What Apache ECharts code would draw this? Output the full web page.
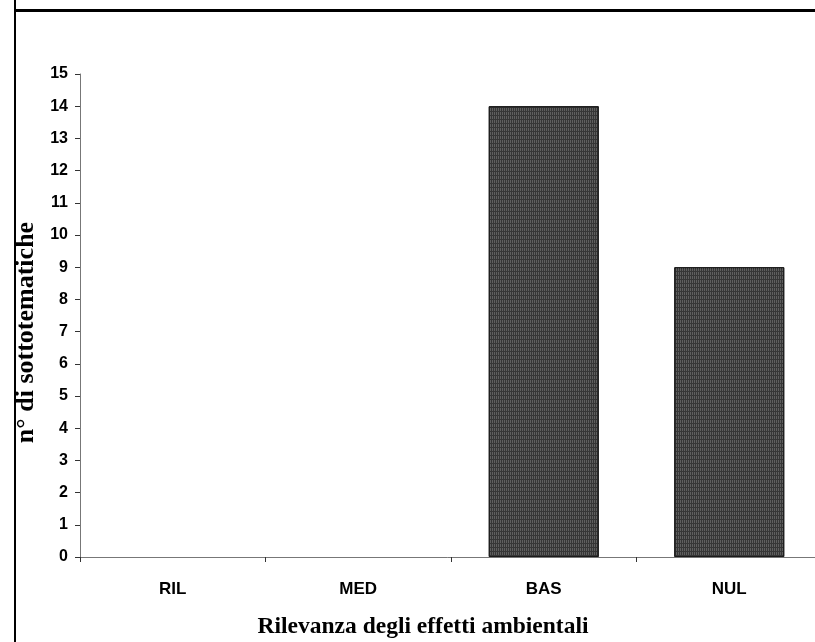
<!DOCTYPE html>
<html>
<head>
<meta charset="utf-8">
<script src="https://cdn.jsdelivr.net/npm/echarts@6/dist/echarts.min.js"></script>
<style>
html,body{margin:0;padding:0;background:#fff;}
#chart{width:815px;height:642px;}
</style>
</head>
<body>
<div id="chart"></div>
<script>
var categories = ['RIL', 'MED', 'BAS', 'NUL'];
var values = [0, 0, 14, 9];
var yTicks = {min: 0, max: 15, interval: 1};

var chart = echarts.init(document.getElementById('chart'), null, {renderer: 'canvas'});
chart.setOption({
  animation: false,
  backgroundColor: '#fff',
  grid: {left: 80, top: 74, bottom: 85, width: 742, containLabel: false, outerBoundsMode: 'none'},
  graphic: [
    {type: 'line', shape: {x1: 15, y1: 0, x2: 15, y2: 642}, style: {stroke: '#000', lineWidth: 2}},
    {type: 'line', shape: {x1: 15, y1: 10.5, x2: 815, y2: 10.5}, style: {stroke: '#000', lineWidth: 3}}
  ],
  xAxis: {
    type: 'category',
    data: categories,
    name: 'Rilevanza degli effetti ambientali',
    nameLocation: 'middle',
    nameGap: 58,
    nameTextStyle: {fontFamily: 'Liberation Serif', fontWeight: 'bold', fontSize: 23.5, color: '#000', padding: [0, 56, 0, 0]},
    axisLine: {lineStyle: {color: '#777', width: 1}},
    axisTick: {show: true, alignWithLabel: false, length: 5, lineStyle: {color: '#333'}},
    axisLabel: {fontFamily: 'Liberation Sans', fontWeight: 'bold', fontSize: 17, color: '#000', margin: 24}
  },
  yAxis: {
    type: 'value',
    min: yTicks.min, max: yTicks.max, interval: yTicks.interval,
    name: 'n° di sottotematiche',
    nameLocation: 'middle',
    nameGap: 37,
    nameTextStyle: {fontFamily: 'Liberation Serif', fontWeight: 'bold', fontSize: 26, color: '#000', padding: [0, 34, 0, 0]},
    axisLine: {show: true, lineStyle: {color: '#777', width: 1}},
    axisTick: {show: true, length: 5, lineStyle: {color: '#333'}},
    splitLine: {show: false},
    axisLabel: {fontFamily: 'Liberation Sans', fontWeight: 'bold', fontSize: 16, color: '#000', margin: 12}
  },
  series: [{
    type: 'bar',
    data: values.map(function (v) {
      return {value: v, itemStyle: {borderWidth: v === 0 ? 0 : 1}};
    }),
    barWidth: 110,
    itemStyle: {
      color: '#363636',
      borderColor: '#1a1a1a',
      decal: {symbol: 'rect', symbolSize: 1, color: 'rgba(100,100,100,0.9)', dashArrayX: [1, 1], dashArrayY: [3, 1], rotation: 0}
    }
  }]
});
</script>
</body>
</html>
